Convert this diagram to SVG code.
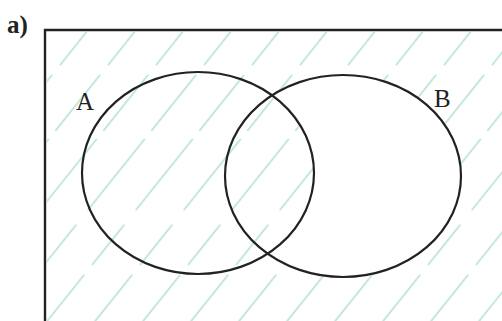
<svg xmlns="http://www.w3.org/2000/svg" width="502" height="321" viewBox="0 0 502 321">
<style>
.hatch{stroke:#a6dccb;stroke-width:2;fill:none;stroke-linecap:round;stroke-dasharray:70 14 50 20 90 12;opacity:0.65}
.set{fill:none;stroke:#222;stroke-width:2.2}
.lbl{font-family:"Liberation Serif",serif;font-size:25px;fill:#222}
</style>
<defs>
<mask id="m">
<rect x="0" y="0" width="502" height="321" fill="#fff"/>
<ellipse cx="343" cy="176" rx="118" ry="101" fill="#000"/>
<ellipse cx="198" cy="173" rx="116" ry="101" fill="#fff"/>
</mask>
<clipPath id="c"><rect x="47" y="32" width="460" height="300"/></clipPath>
</defs>
<rect width="502" height="321" fill="#fff"/>
<g id="hatching" clip-path="url(#c)">
<g mask="url(#m)">
<path class="hatch" d="M-200 330 L40 30 M-152 330 L88 30 M-104 330 L136 30 M-56 330 L184 30 M-8 330 L232 30 M40 330 L280 30 M88 330 L328 30 M136 330 L376 30 M184 330 L424 30 M232 330 L472 30 M280 330 L520 30 M328 330 L568 30 M376 330 L616 30 M424 330 L664 30 M472 330 L712 30"/>
</g>
</g>
<g id="universe">
<path d="M45 321 L45 30 L502 30" fill="none" stroke="#222" stroke-width="2.4"/>
</g>
<text class="lbl" x="7" y="33" font-weight="bold" font-size="27">a)</text>
<g id="setA">
<ellipse class="set" cx="198" cy="173" rx="116" ry="101"/>
<text class="lbl" x="76" y="110">A</text>
</g>
<g id="setB">
<ellipse class="set" cx="343" cy="176" rx="118" ry="101"/>
<text class="lbl" x="434" y="107">B</text>
</g>
<g id="connectors"/>
</svg>
